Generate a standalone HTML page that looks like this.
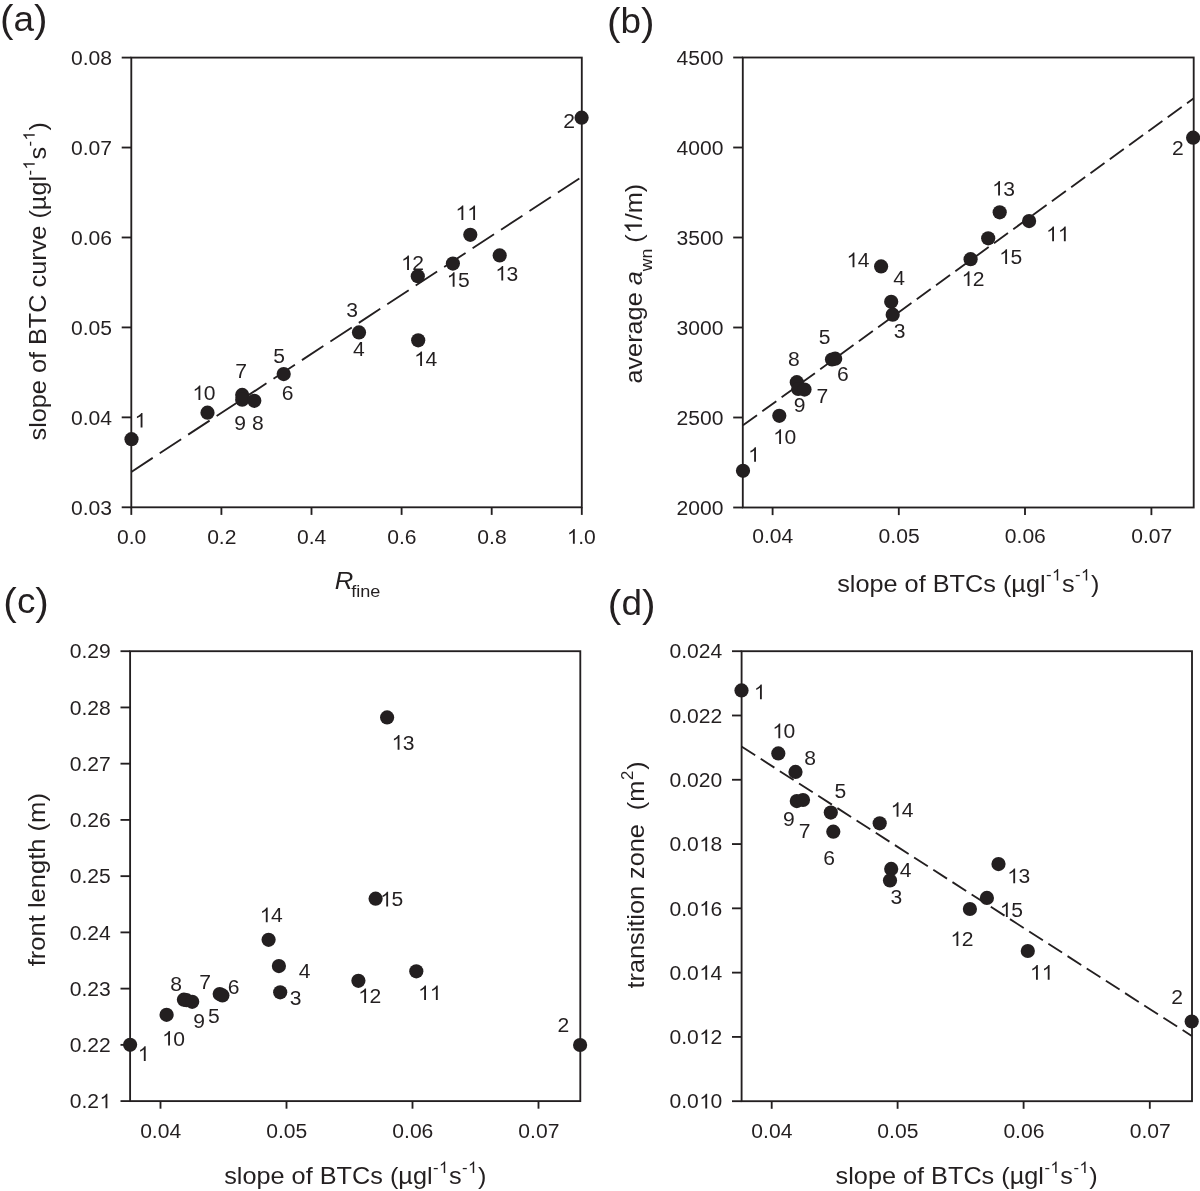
<!DOCTYPE html>
<html><head><meta charset="utf-8"><title>Figure</title>
<style>
html,body{margin:0;padding:0;background:#fff;}
svg{display:block;will-change:transform;}
text{font-family:"Liberation Sans",sans-serif;fill:#231f20;white-space:pre;}
</style></head>
<body>
<svg width="1200" height="1191" viewBox="0 0 1200 1191">
<rect x="0" y="0" width="1200" height="1191" fill="#ffffff"/>
<rect x="131.30" y="57.60" width="450.50" height="449.70" fill="none" stroke="#231f20" stroke-width="1.85"/>
<line x1="121.70" y1="507.30" x2="131.30" y2="507.30" stroke="#231f20" stroke-width="1.85"/>
<text transform="translate(70.91,514.50) scale(1.04,1)" font-size="20.3" text-anchor="start">0.03</text>
<line x1="121.70" y1="417.36" x2="131.30" y2="417.36" stroke="#231f20" stroke-width="1.85"/>
<text transform="translate(70.91,424.56) scale(1.04,1)" font-size="20.3" text-anchor="start">0.04</text>
<line x1="121.70" y1="327.42" x2="131.30" y2="327.42" stroke="#231f20" stroke-width="1.85"/>
<text transform="translate(70.91,334.62) scale(1.04,1)" font-size="20.3" text-anchor="start">0.05</text>
<line x1="121.70" y1="237.48" x2="131.30" y2="237.48" stroke="#231f20" stroke-width="1.85"/>
<text transform="translate(70.91,244.68) scale(1.04,1)" font-size="20.3" text-anchor="start">0.06</text>
<line x1="121.70" y1="147.54" x2="131.30" y2="147.54" stroke="#231f20" stroke-width="1.85"/>
<text transform="translate(70.91,154.74) scale(1.04,1)" font-size="20.3" text-anchor="start">0.07</text>
<line x1="121.70" y1="57.60" x2="131.30" y2="57.60" stroke="#231f20" stroke-width="1.85"/>
<text transform="translate(70.91,64.80) scale(1.04,1)" font-size="20.3" text-anchor="start">0.08</text>
<line x1="131.30" y1="507.30" x2="131.30" y2="514.90" stroke="#231f20" stroke-width="1.85"/>
<text transform="translate(116.90,543.70) scale(1.04,1)" font-size="20.3" text-anchor="start">0.0</text>
<line x1="221.40" y1="507.30" x2="221.40" y2="514.90" stroke="#231f20" stroke-width="1.85"/>
<text transform="translate(207.13,543.70) scale(1.04,1)" font-size="20.3" text-anchor="start">0.2</text>
<line x1="311.50" y1="507.30" x2="311.50" y2="514.90" stroke="#231f20" stroke-width="1.85"/>
<text transform="translate(297.00,543.70) scale(1.04,1)" font-size="20.3" text-anchor="start">0.4</text>
<line x1="401.60" y1="507.30" x2="401.60" y2="514.90" stroke="#231f20" stroke-width="1.85"/>
<text transform="translate(387.25,543.70) scale(1.04,1)" font-size="20.3" text-anchor="start">0.6</text>
<line x1="491.70" y1="507.30" x2="491.70" y2="514.90" stroke="#231f20" stroke-width="1.85"/>
<text transform="translate(477.35,543.70) scale(1.04,1)" font-size="20.3" text-anchor="start">0.8</text>
<line x1="581.80" y1="507.30" x2="581.80" y2="514.90" stroke="#231f20" stroke-width="1.85"/>
<path transform="translate(566.44,543.70) scale(1.04,1) translate(0.447,0) scale(0.009912,-0.009912)" d="M763 0H583V1147Q518 1085 412.5 1023T223 930V1104Q374 1175 487 1276T647 1472H763Z" fill="#231f20"/>
<text transform="translate(566.44,543.70) scale(1.04,1)" font-size="20.3" text-anchor="start">  .0</text>
<line x1="131.30" y1="471.90" x2="581.80" y2="176.80" stroke="#231f20" stroke-width="1.85" stroke-dasharray="25.6 8.4" stroke-dashoffset="0"/>
<circle cx="131.50" cy="439.20" r="7.1" fill="#231f20"/>
<circle cx="207.50" cy="412.70" r="7.1" fill="#231f20"/>
<circle cx="242.20" cy="394.90" r="7.1" fill="#231f20"/>
<circle cx="242.20" cy="399.70" r="7.1" fill="#231f20"/>
<circle cx="254.30" cy="400.80" r="7.1" fill="#231f20"/>
<circle cx="283.70" cy="374.10" r="7.1" fill="#231f20"/>
<circle cx="359.00" cy="332.40" r="7.1" fill="#231f20"/>
<circle cx="581.60" cy="117.70" r="7.1" fill="#231f20"/>
<circle cx="470.30" cy="234.80" r="7.1" fill="#231f20"/>
<circle cx="499.70" cy="255.40" r="7.1" fill="#231f20"/>
<circle cx="452.90" cy="263.60" r="7.1" fill="#231f20"/>
<circle cx="417.80" cy="276.20" r="7.1" fill="#231f20"/>
<circle cx="418.20" cy="340.30" r="7.1" fill="#231f20"/>
<path transform="translate(134.15,427.50) scale(1.04,1) translate(0.447,0) scale(0.009912,-0.009912)" d="M763 0H583V1147Q518 1085 412.5 1023T223 930V1104Q374 1175 487 1276T647 1472H763Z" fill="#231f20"/>
<text transform="translate(134.15,427.50) scale(1.04,1)" font-size="20.3" text-anchor="start">  </text>
<path transform="translate(192.00,400.10) scale(1.04,1) translate(0.447,0) scale(0.009912,-0.009912)" d="M763 0H583V1147Q518 1085 412.5 1023T223 930V1104Q374 1175 487 1276T647 1472H763Z" fill="#231f20"/>
<text transform="translate(192.00,400.10) scale(1.04,1)" font-size="20.3" text-anchor="start">  0</text>
<text transform="translate(235.37,378.20) scale(1.04,1)" font-size="20.3" text-anchor="start">7</text>
<text transform="translate(234.37,429.70) scale(1.04,1)" font-size="20.3" text-anchor="start">9</text>
<text transform="translate(251.89,429.70) scale(1.04,1)" font-size="20.3" text-anchor="start">8</text>
<text transform="translate(273.19,363.10) scale(1.04,1)" font-size="20.3" text-anchor="start">5</text>
<text transform="translate(281.81,400.20) scale(1.04,1)" font-size="20.3" text-anchor="start">6</text>
<text transform="translate(346.19,317.30) scale(1.04,1)" font-size="20.3" text-anchor="start">3</text>
<text transform="translate(352.94,355.70) scale(1.04,1)" font-size="20.3" text-anchor="start">4</text>
<text transform="translate(563.24,127.60) scale(1.04,1)" font-size="20.3" text-anchor="start">2</text>
<path transform="translate(454.97,220.00) scale(1.04,1) translate(0.447,0) scale(0.009912,-0.009912)" d="M763 0H583V1147Q518 1085 412.5 1023T223 930V1104Q374 1175 487 1276T647 1472H763Z" fill="#231f20"/>
<path transform="translate(454.97,220.00) scale(1.04,1) translate(11.737,0) scale(0.009912,-0.009912)" d="M763 0H583V1147Q518 1085 412.5 1023T223 930V1104Q374 1175 487 1276T647 1472H763Z" fill="#231f20"/>
<text transform="translate(454.97,220.00) scale(1.04,1)" font-size="20.3" text-anchor="start">    </text>
<path transform="translate(494.85,280.50) scale(1.04,1) translate(0.447,0) scale(0.009912,-0.009912)" d="M763 0H583V1147Q518 1085 412.5 1023T223 930V1104Q374 1175 487 1276T647 1472H763Z" fill="#231f20"/>
<text transform="translate(494.85,280.50) scale(1.04,1)" font-size="20.3" text-anchor="start">  3</text>
<path transform="translate(446.22,286.80) scale(1.04,1) translate(0.447,0) scale(0.009912,-0.009912)" d="M763 0H583V1147Q518 1085 412.5 1023T223 930V1104Q374 1175 487 1276T647 1472H763Z" fill="#231f20"/>
<text transform="translate(446.22,286.80) scale(1.04,1)" font-size="20.3" text-anchor="start">  5</text>
<path transform="translate(400.63,270.00) scale(1.04,1) translate(0.447,0) scale(0.009912,-0.009912)" d="M763 0H583V1147Q518 1085 412.5 1023T223 930V1104Q374 1175 487 1276T647 1472H763Z" fill="#231f20"/>
<text transform="translate(400.63,270.00) scale(1.04,1)" font-size="20.3" text-anchor="start">  2</text>
<path transform="translate(413.69,366.00) scale(1.04,1) translate(0.447,0) scale(0.009912,-0.009912)" d="M763 0H583V1147Q518 1085 412.5 1023T223 930V1104Q374 1175 487 1276T647 1472H763Z" fill="#231f20"/>
<text transform="translate(413.69,366.00) scale(1.04,1)" font-size="20.3" text-anchor="start">  4</text>
<text transform="translate(0.06,30.50) scale(1.04,1)"><tspan font-size="39.0" dy="1.5">(</tspan><tspan font-size="35.5" dy="-1.5">a</tspan><tspan font-size="39.0" dy="1.5">)</tspan></text>
<g transform="translate(46.00,440.50) rotate(-90) scale(1.04,1)">
<text x="0.000" y="0.000" font-size="24.3">slope of BTC curve </text>
<text x="213.385" y="0.000" font-size="24.3">(µgl</text>
<text x="254.892" y="-11.300" font-size="16">-</text>
<path transform="translate(260.572,-11.300) scale(0.007812,-0.007812)" d="M763 0H583V1147Q518 1085 412.5 1023T223 930V1104Q374 1175 487 1276T647 1472H763Z" fill="#231f20"/>
<text x="270.119" y="0.000" font-size="24.3">s</text>
<text x="282.769" y="-11.300" font-size="16">-</text>
<path transform="translate(288.449,-11.300) scale(0.007812,-0.007812)" d="M763 0H583V1147Q518 1085 412.5 1023T223 930V1104Q374 1175 487 1276T647 1472H763Z" fill="#231f20"/>
<text x="297.995" y="0.000" font-size="24.3">)</text>
</g>
<text transform="translate(334.7,589.1) scale(1.04,1)"><tspan font-size="24.7" font-style="italic">R</tspan><tspan font-size="17.4" dy="7.9" dx="-2.0">fine</tspan></text>
<rect x="742.80" y="57.50" width="450.90" height="450.00" fill="none" stroke="#231f20" stroke-width="1.85"/>
<line x1="733.20" y1="507.50" x2="742.80" y2="507.50" stroke="#231f20" stroke-width="1.85"/>
<text transform="translate(676.53,514.70) scale(1.04,1)" font-size="20.3" text-anchor="start">2000</text>
<line x1="733.20" y1="417.50" x2="742.80" y2="417.50" stroke="#231f20" stroke-width="1.85"/>
<text transform="translate(676.53,424.70) scale(1.04,1)" font-size="20.3" text-anchor="start">2500</text>
<line x1="733.20" y1="327.50" x2="742.80" y2="327.50" stroke="#231f20" stroke-width="1.85"/>
<text transform="translate(676.53,334.70) scale(1.04,1)" font-size="20.3" text-anchor="start">3000</text>
<line x1="733.20" y1="237.50" x2="742.80" y2="237.50" stroke="#231f20" stroke-width="1.85"/>
<text transform="translate(676.53,244.70) scale(1.04,1)" font-size="20.3" text-anchor="start">3500</text>
<line x1="733.20" y1="147.50" x2="742.80" y2="147.50" stroke="#231f20" stroke-width="1.85"/>
<text transform="translate(676.53,154.70) scale(1.04,1)" font-size="20.3" text-anchor="start">4000</text>
<line x1="733.20" y1="57.50" x2="742.80" y2="57.50" stroke="#231f20" stroke-width="1.85"/>
<text transform="translate(676.53,64.70) scale(1.04,1)" font-size="20.3" text-anchor="start">4500</text>
<line x1="772.60" y1="507.50" x2="772.60" y2="515.10" stroke="#231f20" stroke-width="1.85"/>
<text transform="translate(752.24,543.30) scale(1.04,1)" font-size="20.3" text-anchor="start">0.04</text>
<line x1="898.80" y1="507.50" x2="898.80" y2="515.10" stroke="#231f20" stroke-width="1.85"/>
<text transform="translate(878.57,543.30) scale(1.04,1)" font-size="20.3" text-anchor="start">0.05</text>
<line x1="1025.00" y1="507.50" x2="1025.00" y2="515.10" stroke="#231f20" stroke-width="1.85"/>
<text transform="translate(1004.79,543.30) scale(1.04,1)" font-size="20.3" text-anchor="start">0.06</text>
<line x1="1151.40" y1="507.50" x2="1151.40" y2="515.10" stroke="#231f20" stroke-width="1.85"/>
<text transform="translate(1131.27,543.30) scale(1.04,1)" font-size="20.3" text-anchor="start">0.07</text>
<line x1="743.00" y1="425.30" x2="1193.50" y2="98.50" stroke="#231f20" stroke-width="1.85" stroke-dasharray="17.3 6.55" stroke-dashoffset="0"/>
<circle cx="743.00" cy="470.80" r="7.1" fill="#231f20"/>
<circle cx="779.30" cy="415.80" r="7.1" fill="#231f20"/>
<circle cx="796.80" cy="382.20" r="7.1" fill="#231f20"/>
<circle cx="798.20" cy="389.00" r="7.1" fill="#231f20"/>
<circle cx="804.50" cy="389.60" r="7.1" fill="#231f20"/>
<circle cx="832.00" cy="359.50" r="7.1" fill="#231f20"/>
<circle cx="835.20" cy="358.70" r="7.1" fill="#231f20"/>
<circle cx="891.20" cy="301.80" r="7.1" fill="#231f20"/>
<circle cx="892.70" cy="314.70" r="7.1" fill="#231f20"/>
<circle cx="881.10" cy="266.40" r="7.1" fill="#231f20"/>
<circle cx="970.60" cy="259.20" r="7.1" fill="#231f20"/>
<circle cx="1193.10" cy="137.70" r="7.1" fill="#231f20"/>
<circle cx="999.70" cy="212.30" r="7.1" fill="#231f20"/>
<circle cx="1029.10" cy="221.10" r="7.1" fill="#231f20"/>
<circle cx="988.20" cy="238.30" r="7.1" fill="#231f20"/>
<path transform="translate(747.65,461.80) scale(1.04,1) translate(0.447,0) scale(0.009912,-0.009912)" d="M763 0H583V1147Q518 1085 412.5 1023T223 930V1104Q374 1175 487 1276T647 1472H763Z" fill="#231f20"/>
<text transform="translate(747.65,461.80) scale(1.04,1)" font-size="20.3" text-anchor="start">  </text>
<path transform="translate(772.70,443.90) scale(1.04,1) translate(0.447,0) scale(0.009912,-0.009912)" d="M763 0H583V1147Q518 1085 412.5 1023T223 930V1104Q374 1175 487 1276T647 1472H763Z" fill="#231f20"/>
<text transform="translate(772.70,443.90) scale(1.04,1)" font-size="20.3" text-anchor="start">  0</text>
<text transform="translate(793.82,412.40) scale(1.04,1)" font-size="20.3" text-anchor="start">9</text>
<text transform="translate(816.57,403.00) scale(1.04,1)" font-size="20.3" text-anchor="start">7</text>
<text transform="translate(787.89,366.30) scale(1.04,1)" font-size="20.3" text-anchor="start">8</text>
<text transform="translate(818.69,344.20) scale(1.04,1)" font-size="20.3" text-anchor="start">5</text>
<text transform="translate(837.11,380.90) scale(1.04,1)" font-size="20.3" text-anchor="start">6</text>
<text transform="translate(893.24,285.00) scale(1.04,1)" font-size="20.3" text-anchor="start">4</text>
<text transform="translate(893.79,337.50) scale(1.04,1)" font-size="20.3" text-anchor="start">3</text>
<path transform="translate(846.09,267.20) scale(1.04,1) translate(0.447,0) scale(0.009912,-0.009912)" d="M763 0H583V1147Q518 1085 412.5 1023T223 930V1104Q374 1175 487 1276T647 1472H763Z" fill="#231f20"/>
<text transform="translate(846.09,267.20) scale(1.04,1)" font-size="20.3" text-anchor="start">  4</text>
<path transform="translate(961.13,285.90) scale(1.04,1) translate(0.447,0) scale(0.009912,-0.009912)" d="M763 0H583V1147Q518 1085 412.5 1023T223 930V1104Q374 1175 487 1276T647 1472H763Z" fill="#231f20"/>
<text transform="translate(961.13,285.90) scale(1.04,1)" font-size="20.3" text-anchor="start">  2</text>
<text transform="translate(1171.99,155.10) scale(1.04,1)" font-size="20.3" text-anchor="start">2</text>
<path transform="translate(991.65,195.60) scale(1.04,1) translate(0.447,0) scale(0.009912,-0.009912)" d="M763 0H583V1147Q518 1085 412.5 1023T223 930V1104Q374 1175 487 1276T647 1472H763Z" fill="#231f20"/>
<text transform="translate(991.65,195.60) scale(1.04,1)" font-size="20.3" text-anchor="start">  3</text>
<path transform="translate(1045.67,241.20) scale(1.04,1) translate(0.447,0) scale(0.009912,-0.009912)" d="M763 0H583V1147Q518 1085 412.5 1023T223 930V1104Q374 1175 487 1276T647 1472H763Z" fill="#231f20"/>
<path transform="translate(1045.67,241.20) scale(1.04,1) translate(11.737,0) scale(0.009912,-0.009912)" d="M763 0H583V1147Q518 1085 412.5 1023T223 930V1104Q374 1175 487 1276T647 1472H763Z" fill="#231f20"/>
<text transform="translate(1045.67,241.20) scale(1.04,1)" font-size="20.3" text-anchor="start">    </text>
<path transform="translate(998.72,263.90) scale(1.04,1) translate(0.447,0) scale(0.009912,-0.009912)" d="M763 0H583V1147Q518 1085 412.5 1023T223 930V1104Q374 1175 487 1276T647 1472H763Z" fill="#231f20"/>
<text transform="translate(998.72,263.90) scale(1.04,1)" font-size="20.3" text-anchor="start">  5</text>
<text transform="translate(607.07,33.00) scale(1.04,1)"><tspan font-size="39.0" dy="1.5">(</tspan><tspan font-size="35.5" dy="-1.5">b</tspan><tspan font-size="39.0" dy="1.5">)</tspan></text>
<g transform="translate(641.90,383.60) rotate(-90) scale(1.04,1)">
<text x="0.000" y="0.000" font-size="24.3">average </text>
<text x="94.566" y="0.000" font-size="24.3" font-style="italic">a</text>
<text x="108.081" y="10.500" font-size="17.0">wn</text>
<text x="128.613" y="0.000" font-size="24.3"> (</text>
<path transform="translate(143.991,0.000) scale(0.011865,-0.011865)" d="M763 0H583V1147Q518 1085 412.5 1023T223 930V1104Q374 1175 487 1276T647 1472H763Z" fill="#231f20"/>
<text x="156.971" y="0.000" font-size="24.3">/m)</text>
</g>
<g transform="translate(837.20,591.70) scale(1.04,1)">
<text x="0.000" y="0.000" font-size="24.3">slope of BTCs </text>
<text x="159.362" y="0.000" font-size="24.3">(µgl</text>
<text x="200.869" y="-11.300" font-size="16">-</text>
<path transform="translate(206.549,-11.300) scale(0.007812,-0.007812)" d="M763 0H583V1147Q518 1085 412.5 1023T223 930V1104Q374 1175 487 1276T647 1472H763Z" fill="#231f20"/>
<text x="216.096" y="0.000" font-size="24.3">s</text>
<text x="228.746" y="-11.300" font-size="16">-</text>
<path transform="translate(234.426,-11.300) scale(0.007812,-0.007812)" d="M763 0H583V1147Q518 1085 412.5 1023T223 930V1104Q374 1175 487 1276T647 1472H763Z" fill="#231f20"/>
<text x="243.973" y="0.000" font-size="24.3">)</text>
</g>
<rect x="130.10" y="651.20" width="450.20" height="449.90" fill="none" stroke="#231f20" stroke-width="1.85"/>
<line x1="120.50" y1="1101.10" x2="130.10" y2="1101.10" stroke="#231f20" stroke-width="1.85"/>
<path transform="translate(69.71,1108.30) scale(1.04,1) translate(28.667,0) scale(0.009912,-0.009912)" d="M763 0H583V1147Q518 1085 412.5 1023T223 930V1104Q374 1175 487 1276T647 1472H763Z" fill="#231f20"/>
<text transform="translate(69.71,1108.30) scale(1.04,1)" font-size="20.3" text-anchor="start">0.2  </text>
<line x1="120.50" y1="1044.86" x2="130.10" y2="1044.86" stroke="#231f20" stroke-width="1.85"/>
<text transform="translate(69.71,1052.06) scale(1.04,1)" font-size="20.3" text-anchor="start">0.22</text>
<line x1="120.50" y1="988.62" x2="130.10" y2="988.62" stroke="#231f20" stroke-width="1.85"/>
<text transform="translate(69.71,995.83) scale(1.04,1)" font-size="20.3" text-anchor="start">0.23</text>
<line x1="120.50" y1="932.39" x2="130.10" y2="932.39" stroke="#231f20" stroke-width="1.85"/>
<text transform="translate(69.71,939.59) scale(1.04,1)" font-size="20.3" text-anchor="start">0.24</text>
<line x1="120.50" y1="876.15" x2="130.10" y2="876.15" stroke="#231f20" stroke-width="1.85"/>
<text transform="translate(69.71,883.35) scale(1.04,1)" font-size="20.3" text-anchor="start">0.25</text>
<line x1="120.50" y1="819.91" x2="130.10" y2="819.91" stroke="#231f20" stroke-width="1.85"/>
<text transform="translate(69.71,827.11) scale(1.04,1)" font-size="20.3" text-anchor="start">0.26</text>
<line x1="120.50" y1="763.67" x2="130.10" y2="763.67" stroke="#231f20" stroke-width="1.85"/>
<text transform="translate(69.71,770.88) scale(1.04,1)" font-size="20.3" text-anchor="start">0.27</text>
<line x1="120.50" y1="707.44" x2="130.10" y2="707.44" stroke="#231f20" stroke-width="1.85"/>
<text transform="translate(69.71,714.64) scale(1.04,1)" font-size="20.3" text-anchor="start">0.28</text>
<line x1="120.50" y1="651.20" x2="130.10" y2="651.20" stroke="#231f20" stroke-width="1.85"/>
<text transform="translate(69.71,658.40) scale(1.04,1)" font-size="20.3" text-anchor="start">0.29</text>
<line x1="160.50" y1="1101.10" x2="160.50" y2="1108.70" stroke="#231f20" stroke-width="1.85"/>
<text transform="translate(140.14,1137.50) scale(1.04,1)" font-size="20.3" text-anchor="start">0.04</text>
<line x1="286.50" y1="1101.10" x2="286.50" y2="1108.70" stroke="#231f20" stroke-width="1.85"/>
<text transform="translate(266.27,1137.50) scale(1.04,1)" font-size="20.3" text-anchor="start">0.05</text>
<line x1="412.50" y1="1101.10" x2="412.50" y2="1108.70" stroke="#231f20" stroke-width="1.85"/>
<text transform="translate(392.29,1137.50) scale(1.04,1)" font-size="20.3" text-anchor="start">0.06</text>
<line x1="538.50" y1="1101.10" x2="538.50" y2="1108.70" stroke="#231f20" stroke-width="1.85"/>
<text transform="translate(518.37,1137.50) scale(1.04,1)" font-size="20.3" text-anchor="start">0.07</text>
<circle cx="130.10" cy="1044.80" r="7.1" fill="#231f20"/>
<circle cx="166.60" cy="1014.80" r="7.1" fill="#231f20"/>
<circle cx="183.90" cy="999.70" r="7.1" fill="#231f20"/>
<circle cx="186.50" cy="1000.20" r="7.1" fill="#231f20"/>
<circle cx="192.20" cy="1001.80" r="7.1" fill="#231f20"/>
<circle cx="219.70" cy="994.00" r="7.1" fill="#231f20"/>
<circle cx="222.40" cy="995.40" r="7.1" fill="#231f20"/>
<circle cx="268.60" cy="939.80" r="7.1" fill="#231f20"/>
<circle cx="278.90" cy="966.10" r="7.1" fill="#231f20"/>
<circle cx="280.20" cy="992.30" r="7.1" fill="#231f20"/>
<circle cx="358.40" cy="980.80" r="7.1" fill="#231f20"/>
<circle cx="416.30" cy="971.30" r="7.1" fill="#231f20"/>
<circle cx="387.10" cy="717.40" r="7.1" fill="#231f20"/>
<circle cx="375.60" cy="898.70" r="7.1" fill="#231f20"/>
<circle cx="580.10" cy="1045.00" r="7.1" fill="#231f20"/>
<path transform="translate(137.35,1060.90) scale(1.04,1) translate(0.447,0) scale(0.009912,-0.009912)" d="M763 0H583V1147Q518 1085 412.5 1023T223 930V1104Q374 1175 487 1276T647 1472H763Z" fill="#231f20"/>
<text transform="translate(137.35,1060.90) scale(1.04,1)" font-size="20.3" text-anchor="start">  </text>
<path transform="translate(161.65,1045.60) scale(1.04,1) translate(0.447,0) scale(0.009912,-0.009912)" d="M763 0H583V1147Q518 1085 412.5 1023T223 930V1104Q374 1175 487 1276T647 1472H763Z" fill="#231f20"/>
<text transform="translate(161.65,1045.60) scale(1.04,1)" font-size="20.3" text-anchor="start">  0</text>
<text transform="translate(193.17,1028.20) scale(1.04,1)" font-size="20.3" text-anchor="start">9</text>
<text transform="translate(207.89,1022.50) scale(1.04,1)" font-size="20.3" text-anchor="start">5</text>
<text transform="translate(170.29,991.00) scale(1.04,1)" font-size="20.3" text-anchor="start">8</text>
<text transform="translate(199.17,988.90) scale(1.04,1)" font-size="20.3" text-anchor="start">7</text>
<text transform="translate(227.81,994.20) scale(1.04,1)" font-size="20.3" text-anchor="start">6</text>
<text transform="translate(298.74,977.80) scale(1.04,1)" font-size="20.3" text-anchor="start">4</text>
<text transform="translate(289.79,1005.10) scale(1.04,1)" font-size="20.3" text-anchor="start">3</text>
<path transform="translate(259.34,922.20) scale(1.04,1) translate(0.447,0) scale(0.009912,-0.009912)" d="M763 0H583V1147Q518 1085 412.5 1023T223 930V1104Q374 1175 487 1276T647 1472H763Z" fill="#231f20"/>
<text transform="translate(259.34,922.20) scale(1.04,1)" font-size="20.3" text-anchor="start">  4</text>
<path transform="translate(391.15,749.70) scale(1.04,1) translate(0.447,0) scale(0.009912,-0.009912)" d="M763 0H583V1147Q518 1085 412.5 1023T223 930V1104Q374 1175 487 1276T647 1472H763Z" fill="#231f20"/>
<text transform="translate(391.15,749.70) scale(1.04,1)" font-size="20.3" text-anchor="start">  3</text>
<path transform="translate(379.77,906.40) scale(1.04,1) translate(0.447,0) scale(0.009912,-0.009912)" d="M763 0H583V1147Q518 1085 412.5 1023T223 930V1104Q374 1175 487 1276T647 1472H763Z" fill="#231f20"/>
<text transform="translate(379.77,906.40) scale(1.04,1)" font-size="20.3" text-anchor="start">  5</text>
<text transform="translate(557.49,1032.00) scale(1.04,1)" font-size="20.3" text-anchor="start">2</text>
<path transform="translate(357.73,1003.00) scale(1.04,1) translate(0.447,0) scale(0.009912,-0.009912)" d="M763 0H583V1147Q518 1085 412.5 1023T223 930V1104Q374 1175 487 1276T647 1472H763Z" fill="#231f20"/>
<text transform="translate(357.73,1003.00) scale(1.04,1)" font-size="20.3" text-anchor="start">  2</text>
<path transform="translate(417.67,1000.10) scale(1.04,1) translate(0.447,0) scale(0.009912,-0.009912)" d="M763 0H583V1147Q518 1085 412.5 1023T223 930V1104Q374 1175 487 1276T647 1472H763Z" fill="#231f20"/>
<path transform="translate(417.67,1000.10) scale(1.04,1) translate(11.737,0) scale(0.009912,-0.009912)" d="M763 0H583V1147Q518 1085 412.5 1023T223 930V1104Q374 1175 487 1276T647 1472H763Z" fill="#231f20"/>
<text transform="translate(417.67,1000.10) scale(1.04,1)" font-size="20.3" text-anchor="start">    </text>
<text transform="translate(3.37,613.00) scale(1.04,1)"><tspan font-size="39.0" dy="1.5">(</tspan><tspan font-size="35.5" dy="-1.5">c</tspan><tspan font-size="39.0" dy="1.5">)</tspan></text>
<g transform="translate(44.70,966.30) rotate(-90) scale(1.052,1)">
<text x="0.000" y="0.000" font-size="24.3">front length (m)</text>
</g>
<g transform="translate(224.20,1184.30) scale(1.04,1)">
<text x="0.000" y="0.000" font-size="24.3">slope of BTCs </text>
<text x="159.362" y="0.000" font-size="24.3">(µgl</text>
<text x="200.869" y="-11.300" font-size="16">-</text>
<path transform="translate(206.549,-11.300) scale(0.007812,-0.007812)" d="M763 0H583V1147Q518 1085 412.5 1023T223 930V1104Q374 1175 487 1276T647 1472H763Z" fill="#231f20"/>
<text x="216.096" y="0.000" font-size="24.3">s</text>
<text x="228.746" y="-11.300" font-size="16">-</text>
<path transform="translate(234.426,-11.300) scale(0.007812,-0.007812)" d="M763 0H583V1147Q518 1085 412.5 1023T223 930V1104Q374 1175 487 1276T647 1472H763Z" fill="#231f20"/>
<text x="243.973" y="0.000" font-size="24.3">)</text>
</g>
<rect x="741.60" y="651.20" width="450.40" height="450.00" fill="none" stroke="#231f20" stroke-width="1.85"/>
<line x1="732.00" y1="1101.20" x2="741.60" y2="1101.20" stroke="#231f20" stroke-width="1.85"/>
<path transform="translate(669.47,1108.40) scale(1.04,1) translate(28.667,0) scale(0.009912,-0.009912)" d="M763 0H583V1147Q518 1085 412.5 1023T223 930V1104Q374 1175 487 1276T647 1472H763Z" fill="#231f20"/>
<text transform="translate(669.47,1108.40) scale(1.04,1)" font-size="20.3" text-anchor="start">0.0  0</text>
<line x1="732.00" y1="1036.91" x2="741.60" y2="1036.91" stroke="#231f20" stroke-width="1.85"/>
<path transform="translate(669.47,1044.11) scale(1.04,1) translate(28.667,0) scale(0.009912,-0.009912)" d="M763 0H583V1147Q518 1085 412.5 1023T223 930V1104Q374 1175 487 1276T647 1472H763Z" fill="#231f20"/>
<text transform="translate(669.47,1044.11) scale(1.04,1)" font-size="20.3" text-anchor="start">0.0  2</text>
<line x1="732.00" y1="972.63" x2="741.60" y2="972.63" stroke="#231f20" stroke-width="1.85"/>
<path transform="translate(669.47,979.83) scale(1.04,1) translate(28.667,0) scale(0.009912,-0.009912)" d="M763 0H583V1147Q518 1085 412.5 1023T223 930V1104Q374 1175 487 1276T647 1472H763Z" fill="#231f20"/>
<text transform="translate(669.47,979.83) scale(1.04,1)" font-size="20.3" text-anchor="start">0.0  4</text>
<line x1="732.00" y1="908.34" x2="741.60" y2="908.34" stroke="#231f20" stroke-width="1.85"/>
<path transform="translate(669.47,915.54) scale(1.04,1) translate(28.667,0) scale(0.009912,-0.009912)" d="M763 0H583V1147Q518 1085 412.5 1023T223 930V1104Q374 1175 487 1276T647 1472H763Z" fill="#231f20"/>
<text transform="translate(669.47,915.54) scale(1.04,1)" font-size="20.3" text-anchor="start">0.0  6</text>
<line x1="732.00" y1="844.06" x2="741.60" y2="844.06" stroke="#231f20" stroke-width="1.85"/>
<path transform="translate(669.47,851.26) scale(1.04,1) translate(28.667,0) scale(0.009912,-0.009912)" d="M763 0H583V1147Q518 1085 412.5 1023T223 930V1104Q374 1175 487 1276T647 1472H763Z" fill="#231f20"/>
<text transform="translate(669.47,851.26) scale(1.04,1)" font-size="20.3" text-anchor="start">0.0  8</text>
<line x1="732.00" y1="779.77" x2="741.60" y2="779.77" stroke="#231f20" stroke-width="1.85"/>
<text transform="translate(669.47,786.97) scale(1.04,1)" font-size="20.3" text-anchor="start">0.020</text>
<line x1="732.00" y1="715.49" x2="741.60" y2="715.49" stroke="#231f20" stroke-width="1.85"/>
<text transform="translate(669.47,722.69) scale(1.04,1)" font-size="20.3" text-anchor="start">0.022</text>
<line x1="732.00" y1="651.20" x2="741.60" y2="651.20" stroke="#231f20" stroke-width="1.85"/>
<text transform="translate(669.47,658.40) scale(1.04,1)" font-size="20.3" text-anchor="start">0.024</text>
<line x1="771.70" y1="1101.20" x2="771.70" y2="1108.80" stroke="#231f20" stroke-width="1.85"/>
<text transform="translate(751.34,1137.60) scale(1.04,1)" font-size="20.3" text-anchor="start">0.04</text>
<line x1="897.60" y1="1101.20" x2="897.60" y2="1108.80" stroke="#231f20" stroke-width="1.85"/>
<text transform="translate(877.37,1137.60) scale(1.04,1)" font-size="20.3" text-anchor="start">0.05</text>
<line x1="1023.60" y1="1101.20" x2="1023.60" y2="1108.80" stroke="#231f20" stroke-width="1.85"/>
<text transform="translate(1003.39,1137.60) scale(1.04,1)" font-size="20.3" text-anchor="start">0.06</text>
<line x1="1149.80" y1="1101.20" x2="1149.80" y2="1108.80" stroke="#231f20" stroke-width="1.85"/>
<text transform="translate(1129.67,1137.60) scale(1.04,1)" font-size="20.3" text-anchor="start">0.07</text>
<line x1="741.50" y1="746.50" x2="1191.80" y2="1036.00" stroke="#231f20" stroke-width="1.85" stroke-dasharray="16.3 6.5" stroke-dashoffset="0"/>
<circle cx="741.50" cy="690.40" r="7.1" fill="#231f20"/>
<circle cx="778.30" cy="753.40" r="7.1" fill="#231f20"/>
<circle cx="795.50" cy="771.90" r="7.1" fill="#231f20"/>
<circle cx="796.80" cy="801.10" r="7.1" fill="#231f20"/>
<circle cx="803.00" cy="800.00" r="7.1" fill="#231f20"/>
<circle cx="830.80" cy="812.60" r="7.1" fill="#231f20"/>
<circle cx="833.30" cy="831.70" r="7.1" fill="#231f20"/>
<circle cx="879.70" cy="823.30" r="7.1" fill="#231f20"/>
<circle cx="891.20" cy="868.90" r="7.1" fill="#231f20"/>
<circle cx="890.00" cy="880.40" r="7.1" fill="#231f20"/>
<circle cx="969.90" cy="909.00" r="7.1" fill="#231f20"/>
<circle cx="998.50" cy="864.10" r="7.1" fill="#231f20"/>
<circle cx="986.90" cy="897.90" r="7.1" fill="#231f20"/>
<circle cx="1027.80" cy="951.00" r="7.1" fill="#231f20"/>
<circle cx="1191.70" cy="1021.50" r="7.1" fill="#231f20"/>
<path transform="translate(753.50,699.20) scale(1.04,1) translate(0.447,0) scale(0.009912,-0.009912)" d="M763 0H583V1147Q518 1085 412.5 1023T223 930V1104Q374 1175 487 1276T647 1472H763Z" fill="#231f20"/>
<text transform="translate(753.50,699.20) scale(1.04,1)" font-size="20.3" text-anchor="start">  </text>
<path transform="translate(771.90,738.20) scale(1.04,1) translate(0.447,0) scale(0.009912,-0.009912)" d="M763 0H583V1147Q518 1085 412.5 1023T223 930V1104Q374 1175 487 1276T647 1472H763Z" fill="#231f20"/>
<text transform="translate(771.90,738.20) scale(1.04,1)" font-size="20.3" text-anchor="start">  0</text>
<text transform="translate(804.29,764.90) scale(1.04,1)" font-size="20.3" text-anchor="start">8</text>
<text transform="translate(834.39,797.90) scale(1.04,1)" font-size="20.3" text-anchor="start">5</text>
<text transform="translate(782.92,825.80) scale(1.04,1)" font-size="20.3" text-anchor="start">9</text>
<text transform="translate(798.67,838.00) scale(1.04,1)" font-size="20.3" text-anchor="start">7</text>
<text transform="translate(823.21,865.20) scale(1.04,1)" font-size="20.3" text-anchor="start">6</text>
<path transform="translate(890.14,816.80) scale(1.04,1) translate(0.447,0) scale(0.009912,-0.009912)" d="M763 0H583V1147Q518 1085 412.5 1023T223 930V1104Q374 1175 487 1276T647 1472H763Z" fill="#231f20"/>
<text transform="translate(890.14,816.80) scale(1.04,1)" font-size="20.3" text-anchor="start">  4</text>
<text transform="translate(899.64,877.20) scale(1.04,1)" font-size="20.3" text-anchor="start">4</text>
<text transform="translate(890.54,904.10) scale(1.04,1)" font-size="20.3" text-anchor="start">3</text>
<path transform="translate(1006.80,883.20) scale(1.04,1) translate(0.447,0) scale(0.009912,-0.009912)" d="M763 0H583V1147Q518 1085 412.5 1023T223 930V1104Q374 1175 487 1276T647 1472H763Z" fill="#231f20"/>
<text transform="translate(1006.80,883.20) scale(1.04,1)" font-size="20.3" text-anchor="start">  3</text>
<path transform="translate(999.42,917.10) scale(1.04,1) translate(0.447,0) scale(0.009912,-0.009912)" d="M763 0H583V1147Q518 1085 412.5 1023T223 930V1104Q374 1175 487 1276T647 1472H763Z" fill="#231f20"/>
<text transform="translate(999.42,917.10) scale(1.04,1)" font-size="20.3" text-anchor="start">  5</text>
<path transform="translate(949.98,946.10) scale(1.04,1) translate(0.447,0) scale(0.009912,-0.009912)" d="M763 0H583V1147Q518 1085 412.5 1023T223 930V1104Q374 1175 487 1276T647 1472H763Z" fill="#231f20"/>
<text transform="translate(949.98,946.10) scale(1.04,1)" font-size="20.3" text-anchor="start">  2</text>
<path transform="translate(1029.52,979.70) scale(1.04,1) translate(0.447,0) scale(0.009912,-0.009912)" d="M763 0H583V1147Q518 1085 412.5 1023T223 930V1104Q374 1175 487 1276T647 1472H763Z" fill="#231f20"/>
<path transform="translate(1029.52,979.70) scale(1.04,1) translate(11.737,0) scale(0.009912,-0.009912)" d="M763 0H583V1147Q518 1085 412.5 1023T223 930V1104Q374 1175 487 1276T647 1472H763Z" fill="#231f20"/>
<text transform="translate(1029.52,979.70) scale(1.04,1)" font-size="20.3" text-anchor="start">    </text>
<text transform="translate(1171.19,1003.80) scale(1.04,1)" font-size="20.3" text-anchor="start">2</text>
<text transform="translate(607.87,615.30) scale(1.04,1)"><tspan font-size="39.0" dy="1.5">(</tspan><tspan font-size="35.5" dy="-1.5">d</tspan><tspan font-size="39.0" dy="1.5">)</tspan></text>
<g transform="translate(644.20,988.50) rotate(-90) scale(1.04,1)">
<text x="0.000" y="0.000" font-size="24.3">transition zone  (m</text>
<text x="200.383" y="-11.300" font-size="16">2</text>
<text x="210.281" y="0.000" font-size="24.3">)</text>
</g>
<g transform="translate(835.60,1184.30) scale(1.04,1)">
<text x="0.000" y="0.000" font-size="24.3">slope of BTCs </text>
<text x="159.362" y="0.000" font-size="24.3">(µgl</text>
<text x="200.869" y="-11.300" font-size="16">-</text>
<path transform="translate(206.549,-11.300) scale(0.007812,-0.007812)" d="M763 0H583V1147Q518 1085 412.5 1023T223 930V1104Q374 1175 487 1276T647 1472H763Z" fill="#231f20"/>
<text x="216.096" y="0.000" font-size="24.3">s</text>
<text x="228.746" y="-11.300" font-size="16">-</text>
<path transform="translate(234.426,-11.300) scale(0.007812,-0.007812)" d="M763 0H583V1147Q518 1085 412.5 1023T223 930V1104Q374 1175 487 1276T647 1472H763Z" fill="#231f20"/>
<text x="243.973" y="0.000" font-size="24.3">)</text>
</g>
</svg>
</body></html>
